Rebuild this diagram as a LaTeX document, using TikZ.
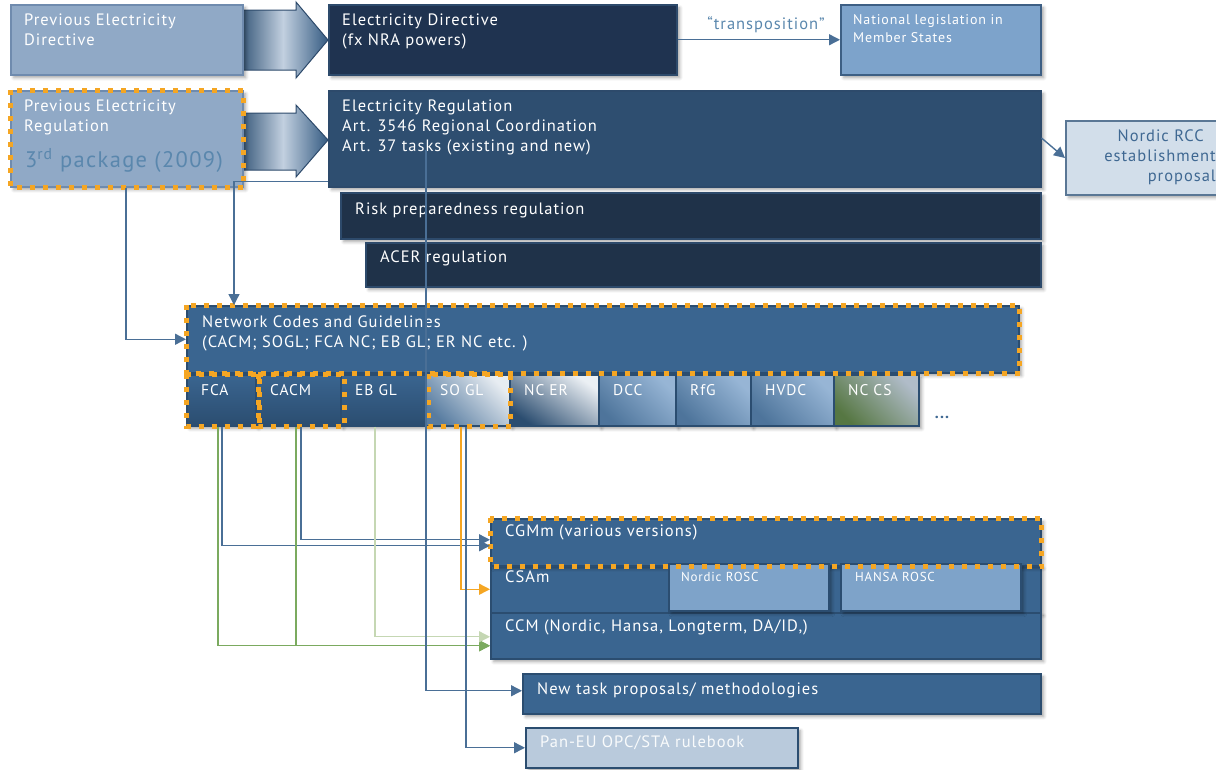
\documentclass[tikz,border=0pt]{standalone}
\usepackage{fontspec}
\setmainfont{PT Sans}[LetterSpace=6]
\usetikzlibrary{arrows.meta,shadows.blur}

\definecolor{prevfill}{HTML}{90A9C6}
\definecolor{prevborder}{HTML}{6F8BAE}
\definecolor{navy}{HTML}{1F3350}
\definecolor{navyborder}{HTML}{2D4A6B}
\definecolor{erfill}{HTML}{2E4E70}
\definecolor{darkfill}{HTML}{1F3249}
\definecolor{midfill}{HTML}{3A6590}
\definecolor{midborder}{HTML}{2B4D70}
\definecolor{natfill}{HTML}{7DA3CB}
\definecolor{natborder}{HTML}{3D5F84}
\definecolor{rccfill}{HTML}{D2DEEA}
\definecolor{rccborder}{HTML}{5A7795}
\definecolor{rcctext}{HTML}{3F6892}
\definecolor{panfill}{HTML}{B9CADC}
\definecolor{rosfill}{HTML}{7EA3C9}
\definecolor{dotorange}{HTML}{F5A623}
\definecolor{connc}{HTML}{4A6F96}
\definecolor{greenc}{HTML}{7BAA5F}
\definecolor{lightgreenc}{HTML}{C5D7B3}
\definecolor{pkgtext}{HTML}{5A87AD}

\newcommand\bx[6]{\node[box,#2,minimum width=#5,minimum height=#6] (#1) at (#3,#4) {};}

\begin{document}
\begin{tikzpicture}[x=1pt,y=-1pt,
  box/.style={rectangle, inner sep=0pt, anchor=north west, line width=1.5pt,
    blur shadow={shadow xshift=3pt, shadow yshift=-3pt, shadow blur radius=3pt, shadow opacity=35}},
  txt/.style={inner sep=0pt, anchor=north west, align=left, text=white,
    font=\fontsize{16.5}{20}\selectfont},
  small/.style={txt, font=\fontsize{14}{18}\selectfont},
  tiny/.style={txt, font=\fontsize{13}{16}\selectfont},
  subtxt/.style={txt, font=\fontsize{15.5}{18}\selectfont},
  conn/.style={line width=1.4pt, draw=connc, -{Triangle[length=11pt,width=11pt]}},
  dotbox/.style={draw=dotorange, line width=5pt, dash pattern=on 5pt off 8pt},
  blockarrow/.style={draw=navyborder, line width=1pt, left color=midfill!80!black,
    right color=midfill!90!black, middle color=prevfill!55!white}
]
\clip (0,0) rectangle (1216,769);

% ---------- block arrows ----------
\path[blockarrow] (238,10) -- (296,10) -- (296,2) -- (328,40) -- (296,78) -- (296,70) -- (238,70) -- cycle;
\path[blockarrow] (238,113) -- (296,113) -- (296,105) -- (328,140) -- (296,177) -- (296,170) -- (238,170) -- cycle;

% ---------- top row ----------
\bx{prevdir}{fill=prevfill, draw=prevborder}{10}{4}{232}{70}
\node[txt] (prevdir-t) at ([shift={(14pt,-10pt)}]prevdir.north west) {Previous Electricity\\Directive};

\bx{dir}{fill=navy, draw=navyborder}{328}{4}{348}{70}
\node[txt] (dir-t) at ([shift={(14pt,-10pt)}]dir.north west) {Electricity Directive\\(fx NRA powers)};

\bx{nat}{fill=natfill, draw=natborder}{840}{4}{200}{70}
\node[small] (nat-t) at ([shift={(13pt,-10pt)}]nat.north west) {National legislation in\\Member States};

\draw[conn] (dir.east) -- (nat.west);
\node[inner sep=0pt, text=pkgtext, font=\fontsize{16.5}{20}\selectfont] (transp) at (766,25) {“transposition”};

% ---------- regulation row ----------
\bx{prevreg}{fill=prevfill, draw=prevborder}{10}{90}{232}{96}
\node[txt] (prevreg-t) at ([shift={(14pt,-10pt)}]prevreg.north west) {Previous Electricity\\Regulation};
\node[inner sep=0pt, anchor=base west, text=pkgtext, font=\fontsize{22.5}{26}\selectfont] (pkg) at (25,167) {3\textsuperscript{rd} package (2009)};

\bx{er}{fill=erfill, draw=navyborder}{328}{90}{712}{96}
\node[txt] (er-t) at ([shift={(14pt,-10pt)}]er.north west) {Electricity Regulation\\Art. 3546 Regional Coordination\\Art. 37 tasks (existing and new)};

\bx{rcc}{fill=rccfill, draw=rccborder}{1065}{120}{170}{74}
\node[txt, anchor=north east, align=right, text=rcctext] (rcc-t) at (1216,130) {Nordic RCC\hspace*{12pt}\\establishment\\proposal};
\draw[conn] ([yshift=-48pt]er.north east) -- ([yshift=-38pt]rcc.north west);

\bx{risk}{fill=darkfill, draw=navyborder}{340}{192}{700}{46}
\node[txt] (risk-t) at ([shift={(15pt,-11pt)}]risk.north west) {Risk preparedness regulation};

\bx{acer}{fill=darkfill, draw=navyborder}{365}{242}{675}{44}
\node[txt] (acer-t) at ([shift={(15pt,-9pt)}]acer.north west) {ACER regulation};

% ---------- network codes ----------
\bx{ncg}{fill=midfill, draw=midborder}{186}{305}{832}{67}
\node[txt] (ncg-t) at ([shift={(16pt,-11pt)}]ncg.north west) {Network Codes and Guidelines\\(CACM; SOGL; FCA NC; EB GL; ER NC etc. )};

\bx{fca}{top color=midfill, bottom color=midborder, draw=midborder}{186}{374}{69}{51}
\bx{cacm}{top color=midfill, bottom color=midborder, draw=midborder}{255}{374}{85}{51}
\bx{ebgl}{top color=midfill, bottom color=midborder, draw=midborder}{340}{374}{85}{51}
\bx{sogl}{top color=white!88!midfill, bottom color=midfill!85!white, shading angle=-45, draw=midborder}{425}{374}{84}{51}
\bx{ncer}{top color=white!90!midfill, bottom color=midborder, shading angle=-35, draw=midborder}{509}{374}{89}{51}
\bx{dcc}{top color=natfill!80!white, bottom color=midfill!90!white, shading angle=-45, draw=midborder}{598}{374}{77}{51}
\bx{rfg}{top color=natfill!80!white, bottom color=midfill!90!white, shading angle=-45, draw=midborder}{675}{374}{75}{51}
\bx{hvdc}{top color=natfill!80!white, bottom color=midfill!90!white, shading angle=-45, draw=midborder}{750}{374}{83}{51}
\bx{nccs}{top color=white!55!natfill!70!gray, bottom color=greenc!70!black, shading angle=-45, draw=midborder}{833}{374}{85}{51}

\foreach \n/\t in {fca/FCA, cacm/CACM, ebgl/EB GL, sogl/SO GL, ncer/NC ER, dcc/DCC, rfg/RfG, hvdc/HVDC, nccs/NC CS}
  \node[subtxt] (\n-t) at ([shift={(15pt,-10pt)}]\n.north west) {\t};
\node[inner sep=0pt, text=rcctext, font=\bfseries\fontsize{16}{20}\selectfont] (more) at (942,417) {...};

% ---------- regional methodologies ----------
\bx{csa}{fill=midfill, draw=midborder}{490}{565}{550}{47}
\bx{ccm}{fill=midfill, draw=midborder}{490}{612}{550}{46}
\bx{cgm}{fill=midfill, draw=midborder}{490}{518}{550}{47}
\bx{nros}{fill=rosfill, draw=midborder}{668}{563}{160}{47}
\bx{hros}{fill=rosfill, draw=midborder}{840}{563}{180}{47}

\node[txt] (cgm-t) at ([shift={(15pt,-7pt)}]cgm.north west) {CGMm (various versions)};
\node[txt] (csa-t) at ([shift={(15pt,-6pt)}]csa.north west) {CSAm};
\node[txt] (ccm-t) at ([shift={(15pt,-8pt)}]ccm.north west) {CCM (Nordic, Hansa, Longterm, DA/ID,)};
\node[tiny] (nros-t) at ([shift={(13pt,-9pt)}]nros.north west) {Nordic ROSC};
\node[tiny] (hros-t) at ([shift={(15pt,-9pt)}]hros.north west) {HANSA ROSC};

\bx{newt}{fill=midfill, draw=midborder}{522}{673}{518}{40}
\node[txt] (newt-t) at ([shift={(15pt,-10pt)}]newt.north west) {New task proposals/ methodologies};

\bx{pan}{fill=panfill, draw=midborder}{525}{727}{272}{40}
\node[txt, text=white!92!panfill] (pan-t) at ([shift={(15pt,-9pt)}]pan.north west) {Pan-EU OPC/STA rulebook};

% ---------- orange dotted highlights ----------
\draw[dotbox] (prevreg.north west) rectangle (prevreg.south east);
\draw[dotbox] (ncg.north west) rectangle (ncg.south east);
\draw[dotbox] (fca.north west) rectangle ([xshift=3pt]fca.south east);
\draw[dotbox] ([xshift=3pt]cacm.north west) rectangle ([xshift=3pt]cacm.south east);
\draw[dotbox] ([xshift=3pt]sogl.north west) rectangle (sogl.south east);
\draw[dotbox] (cgm.north west) rectangle (cgm.south east);

% ---------- connectors ----------
\draw[conn] ([xshift=116pt]prevreg.south west) |- (ncg.west);
\draw[conn] ([yshift=6pt]er.south west) -| ([xshift=48pt]ncg.north west);
\draw[conn] ([xshift=36pt]fca.south west) |- ([yshift=-3.5pt]cgm.west);
\draw[conn] ([xshift=46pt]cacm.south west) |- ([yshift=2.5pt]cgm.west);
\draw[conn, draw=greenc] ([xshift=32pt]fca.south west) |- ([yshift=-10pt]ccm.west);
\draw[conn, draw=greenc] ([xshift=41pt]cacm.south west) |- ([yshift=-10pt]ccm.west);
\draw[conn, draw=lightgreenc] ([xshift=35pt]ebgl.south west) |- ([yshift=-1pt]ccm.west);
\draw[conn, draw=dotorange] ([xshift=36pt]sogl.south west) |- (csa.west);
\draw[conn] ([xshift=41pt]sogl.south west) |- (pan.west);
\draw[conn] ([shift={(98pt,-60pt)}]er.north west) |- ([yshift=3pt]newt.west);
\end{tikzpicture}
\end{document}
